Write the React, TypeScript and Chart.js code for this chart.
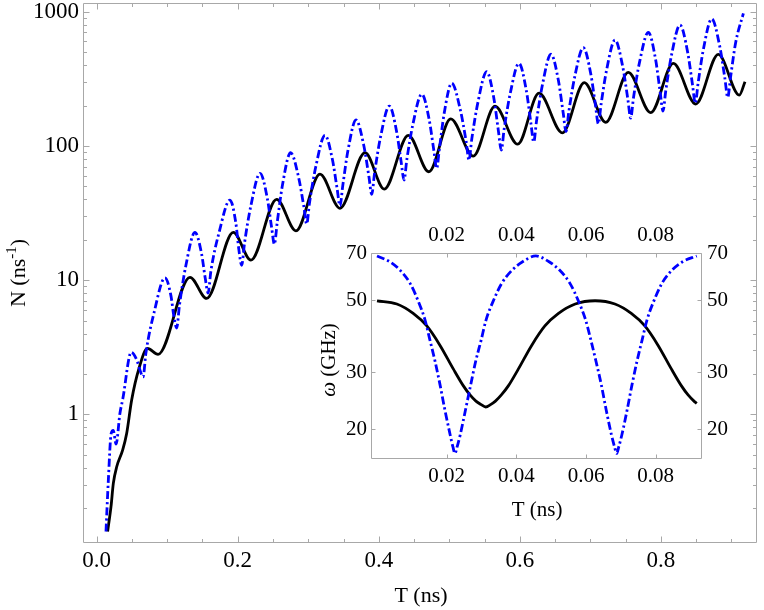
import React, { useEffect, useRef } from "react";
import { Chart, registerables } from "chart.js";

Chart.register(...registerables);

const FONT = "'Liberation Serif', 'Times New Roman', serif";
const FRAME_COLOR = "#a8a8a8";

// ---------- main plot data (T in ns, N in ns^-1) ----------
const blueT = [
  0.0132, 0.0165, 0.0205, 0.0235, 0.0275, 0.033, 0.037, 0.049,
  0.0574, 0.0618, 0.0658, 0.0698, 0.0814, 0.0969,
  0.1052, 0.1094, 0.1134, 0.1174, 0.1264, 0.1394,
  0.1487, 0.154, 0.158, 0.162, 0.1735, 0.189,
  0.1973, 0.2016, 0.2056, 0.2096, 0.2187, 0.2317,
  0.2419, 0.248, 0.252, 0.256, 0.2635, 0.275,
  0.2864, 0.2938, 0.2978, 0.3018, 0.3108, 0.3237,
  0.3344, 0.341, 0.345, 0.349, 0.3564, 0.3677,
  0.3789, 0.386, 0.39, 0.394, 0.4025, 0.415,
  0.4254, 0.4318, 0.4358, 0.4398, 0.4484, 0.461,
  0.4716, 0.4781, 0.4821, 0.4861, 0.4928, 0.5034,
  0.5157, 0.5239, 0.5279, 0.5319, 0.5405, 0.553,
  0.5634, 0.5697, 0.5737, 0.5777, 0.5863, 0.5988,
  0.6093, 0.6157, 0.6197, 0.6237, 0.632, 0.6442,
  0.6549, 0.6615, 0.6655, 0.6695, 0.6778, 0.69,
  0.7007, 0.7073, 0.7113, 0.7153, 0.7232, 0.735,
  0.7461, 0.7532, 0.7572, 0.7612, 0.7697, 0.7822,
  0.7926, 0.799, 0.803, 0.807, 0.8151, 0.8271,
  0.838, 0.8448, 0.8488, 0.8528, 0.8605, 0.8721,
  0.8835, 0.8908, 0.8948, 0.8988, 0.906, 0.917,
];
const blueN = [
  0.134, 0.32, 0.72, 0.76, 0.6, 1.02, 1.3, 2.9,
  2.5, 2.1, 1.9, 2.86, 5.74, 10.4,
  7.7, 5.41, 4.4, 6.52, 12.79, 22.7,
  15.76, 10.27, 8.0, 11.74, 22.59, 39.5,
  26.7, 16.88, 12.9, 18.84, 35.97, 62.5,
  40.82, 24.78, 18.5, 26.97, 51.36, 89,
  58.0, 35.14, 26.2, 37.76, 70.46, 120,
  78.5, 47.76, 35.7, 50.86, 93.1, 156,
  99.8, 59.2, 43.6, 62.7, 116.6, 198,
  127.0, 75.5, 55.7, 79.3, 145.1, 243,
  155.6, 92.3, 68, 96.6, 175.8, 293,
  184.8, 107.7, 78.5, 112.9, 210.2, 357,
  223.0, 128.4, 93, 132.9, 244.7, 412,
  257.0, 147.9, 107, 153.6, 284.6, 482,
  303.0, 176.0, 128, 180.8, 326.3, 540,
  341.7, 199.8, 146, 206.2, 371.8, 615,
  384.7, 222.0, 161, 229.2, 419.3, 702,
  437.7, 251.6, 182, 259.3, 475.0, 796,
  497.8, 287.1, 208, 294.3, 532.3, 883,
  551.4, 317.7, 230, 325.1, 587, 973,
];
const blackT = [
  0.0155, 0.0203, 0.0236, 0.0284, 0.0369, 0.0425, 0.0496, 0.06, 0.072, 0.087,
  0.1323, 0.156, 0.1937, 0.2188, 0.2552, 0.2826, 0.3166, 0.345, 0.3805, 0.4078,
  0.4419, 0.471, 0.502, 0.534, 0.5648, 0.597, 0.6272, 0.6603, 0.6914, 0.7218,
  0.7538, 0.7856, 0.8177, 0.8494, 0.8815, 0.9112, 0.9193,
];
const blackN = [
  0.134, 0.205, 0.306, 0.407, 0.543, 0.72, 1.28, 2.2, 3.1, 2.8,
  10.5, 7.3, 22.7, 14.1, 40, 23.3, 61.7, 34.3, 89, 47.7,
  120, 64.2, 159, 84, 198, 103, 247, 125, 296, 150,
  353, 177, 412, 205, 481, 239, 301,
];

// ---------- inset data (T in ns, omega in GHz) ----------
const insetBlueT = [
  0, 0.0037, 0.0066, 0.0095, 0.0119, 0.0138, 0.0152, 0.0167, 0.0181, 0.0195, 0.021, 0.0218, 0.0224,
  0.023, 0.0239, 0.0254, 0.0269, 0.0283, 0.0299, 0.0313, 0.0333, 0.0358, 0.0388, 0.0418, 0.0456,
  0.0494, 0.0524, 0.0554, 0.0579, 0.0599, 0.0614, 0.0629, 0.0644, 0.0658, 0.0673, 0.0682, 0.0688,
  0.0694, 0.0703, 0.0718, 0.0732, 0.0746, 0.0761, 0.0775, 0.0794, 0.0818, 0.0847, 0.0877, 0.0918,
];
const insetBlueW = [
  68.7, 65.9, 62.1, 56.5, 49.6, 43.5, 37.7, 32.3, 27.4, 22.9, 19.2, 17.6, 16.8,
  17.6, 19.2, 22.9, 27.4, 32.3, 37.7, 43.5, 49.6, 56.5, 62.1, 65.9, 68.7,
  65.9, 62.1, 56.5, 49.6, 43.5, 37.7, 32.3, 27.4, 22.9, 19.2, 17.6, 16.8,
  17.6, 19.2, 22.9, 27.4, 32.3, 37.7, 43.5, 49.6, 56.5, 62.1, 65.9, 68.7,
];
const insetBlackT = [
  0, 0.0057, 0.0104, 0.0143, 0.0181, 0.0219, 0.0248, 0.0267, 0.0284, 0.0299,
  0.0312, 0.0326, 0.034, 0.0357, 0.0377, 0.0406, 0.0444, 0.0482, 0.0521, 0.0569,
  0.0626, 0.0683, 0.073, 0.0769, 0.0807, 0.0845, 0.0874, 0.0893, 0.091, 0.0918,
];
const insetBlackW = [
  49.9, 48.75, 45.6, 41.7, 36.3, 30.7, 27.2, 25.5, 24.4, 23.8,
  23.4, 23.8, 24.4, 25.5, 27.2, 30.7, 36.3, 41.7, 45.6, 48.75,
  49.9, 48.75, 45.6, 41.7, 36.3, 30.7, 27.2, 25.5, 24.4, 24.0,
];

// ---------- ticks ----------
const mainXTicks = [0, 0.2, 0.4, 0.6, 0.8];
const mainXMinor = [0.05, 0.1, 0.15, 0.25, 0.3, 0.35, 0.45, 0.5, 0.55, 0.65, 0.7, 0.75, 0.85, 0.9];
const mainYTicks = [1, 10, 100, 1000];
const mainYMinor = [
  0.2, 0.3, 0.4, 0.5, 0.6, 0.7, 0.8, 0.9,
  2, 3, 4, 5, 6, 7, 8, 9,
  20, 30, 40, 50, 60, 70, 80, 90,
  200, 300, 400, 500, 600, 700, 800, 900,
];
const insetXTicks = [0.02, 0.04, 0.06, 0.08];
const insetYTicks = [20, 30, 50, 70];

const mainXTitle = "T (ns)";
const mainYTitle = ["N (ns", "-1", ")"];
const insetXTitle = "T (ns)";
const insetYTitle = ["ω", " (GHz)"];

function pts(xs: number[], ys: number[]) {
  return xs.map((x, i) => ({ x, y: ys[i] }));
}

const framePlugin = {
  id: "frameTicks",
  beforeDatasetsDraw(chart: any, _args: any, opts: any) {
    const { ctx, chartArea: a } = chart;
    const xs = chart.scales.x;
    const ys = chart.scales.y;
    const L = Math.round(a.left) + 0.5;
    const R = Math.round(a.right) - 0.5;
    const T = Math.round(a.top) + 0.5;
    const B = Math.round(a.bottom) - 0.5;
    ctx.save();
    ctx.strokeStyle = opts.color;
    ctx.lineWidth = 1;
    ctx.beginPath();
    ctx.rect(L, T, R - L, B - T);
    const xt = (vals: number[], len: number) => {
      vals.forEach((v) => {
        const p = Math.round(xs.getPixelForValue(v)) + 0.5;
        if (p < L || p > R) return;
        ctx.moveTo(p, B);
        ctx.lineTo(p, B - len);
        ctx.moveTo(p, T);
        ctx.lineTo(p, T + len);
      });
    };
    const yt = (vals: number[], len: number) => {
      vals.forEach((v) => {
        const p = Math.round(ys.getPixelForValue(v)) + 0.5;
        if (p < T || p > B) return;
        ctx.moveTo(L, p);
        ctx.lineTo(L + len, p);
        ctx.moveTo(R, p);
        ctx.lineTo(R - len, p);
      });
    };
    xt(opts.xMajor, opts.major);
    xt(opts.xMinor, opts.minor);
    yt(opts.yMajor, opts.major);
    yt(opts.yMinor, opts.minor);
    ctx.stroke();
    ctx.restore();
  },
};

const mainTitlePlugin = {
  id: "mainTitles",
  afterDraw(chart: any) {
    const ctx = chart.ctx;
    ctx.save();
    ctx.fillStyle = "#000";
    ctx.font = `22px ${FONT}`;
    ctx.textAlign = "center";
    ctx.textBaseline = "middle";
    ctx.fillText(mainXTitle, 421, 596);
    ctx.translate(17, 273);
    ctx.rotate(-Math.PI / 2);
    ctx.textAlign = "left";
    ctx.textBaseline = "alphabetic";
    ctx.font = `22px ${FONT}`;
    const wa = ctx.measureText(mainYTitle[0]).width;
    const wc = ctx.measureText(mainYTitle[2]).width;
    ctx.font = `15px ${FONT}`;
    const wb = ctx.measureText(mainYTitle[1]).width;
    const x0 = -(wa + wb + wc) / 2;
    ctx.font = `22px ${FONT}`;
    ctx.fillText(mainYTitle[0], x0, 7.5);
    ctx.fillText(mainYTitle[2], x0 + wa + wb, 7.5);
    ctx.font = `15px ${FONT}`;
    ctx.fillText(mainYTitle[1], x0 + wa, -1.5);
    ctx.restore();
  },
};

const insetTitlePlugin = {
  id: "insetTitles",
  afterDraw(chart: any) {
    const ctx = chart.ctx;
    ctx.save();
    ctx.fillStyle = "#000";
    ctx.font = `21px ${FONT}`;
    ctx.textAlign = "center";
    ctx.textBaseline = "middle";
    ctx.fillText(insetXTitle, 237, 295);
    ctx.translate(28, 145);
    ctx.rotate(-Math.PI / 2);
    ctx.textAlign = "left";
    ctx.textBaseline = "alphabetic";
    ctx.font = `italic 21px ${FONT}`;
    const wa = ctx.measureText(insetYTitle[0]).width;
    ctx.font = `21px ${FONT}`;
    const wb = ctx.measureText(insetYTitle[1]).width;
    const x0 = -(wa + wb) / 2;
    ctx.font = `italic 21px ${FONT}`;
    ctx.fillText(insetYTitle[0], x0, 7);
    ctx.font = `21px ${FONT}`;
    ctx.fillText(insetYTitle[1], x0 + wa, 7);
    ctx.restore();
  },
};

const blueStyle = {
  borderColor: "#0000ff",
  borderWidth: 2.8,
  borderDash: [8, 3, 2.2, 3],
  borderCapStyle: "butt",
  pointRadius: 0,
  fill: false,
  cubicInterpolationMode: "monotone",
};
const blackStyle = {
  borderColor: "#000000",
  borderWidth: 2.8,
  pointRadius: 0,
  fill: false,
  cubicInterpolationMode: "monotone",
};

const noGrid = { display: false, drawTicks: false, tickLength: 0 };

export default function App() {
  const mainRef = useRef<HTMLCanvasElement>(null);
  const insetRef = useRef<HTMLCanvasElement>(null);

  useEffect(() => {
    const tickFontMain = { family: FONT, size: 23 };
    const tickFontInset = { family: FONT, size: 21 };

    const main = new Chart(mainRef.current as HTMLCanvasElement, {
      type: "line",
      data: {
        datasets: [
          { ...blueStyle, data: pts(blueT, blueN) } as any,
          { ...blackStyle, data: pts(blackT, blackN) } as any,
        ],
      },
      options: {
        responsive: false,
        animation: false,
        devicePixelRatio: 1,
        events: [],
        layout: { autoPadding: false, padding: { left: 0, top: 3, right: 7, bottom: 0 } },
        plugins: {
          legend: { display: false },
          tooltip: { enabled: false },
          frameTicks: {
            color: FRAME_COLOR,
            xMajor: mainXTicks,
            xMinor: mainXMinor,
            yMajor: mainYTicks,
            yMinor: mainYMinor,
            major: 6,
            minor: 3.5,
          },
        } as any,
        scales: {
          x: {
            type: "linear",
            position: "bottom",
            min: -0.0194,
            max: 0.9363,
            grid: noGrid,
            border: { display: false },
            ticks: {
              font: tickFontMain,
              color: "#000",
              padding: 4,
              autoSkip: false,
              maxRotation: 0,
              callback: (v: any) => Number(v).toFixed(1),
            },
            afterBuildTicks: (s: any) => {
              s.ticks = mainXTicks.map((v) => ({ value: v }));
            },
            afterFit: (s: any) => {
              s.height = 67;
              s.paddingLeft = 0;
              s.paddingRight = 0;
            },
          },
          y: {
            type: "logarithmic",
            position: "left",
            min: 0.11,
            max: 1161,
            grid: noGrid,
            border: { display: false },
            ticks: {
              font: tickFontMain,
              color: "#000",
              padding: 4,
              autoSkip: false,
              callback: (v: any) => String(v),
            },
            afterBuildTicks: (s: any) => {
              s.ticks = mainYTicks.map((v) => ({ value: v }));
            },
            afterFit: (s: any) => {
              s.width = 83;
              s.paddingTop = 0;
              s.paddingBottom = 0;
            },
          },
        } as any,
      },
      plugins: [framePlugin as any, mainTitlePlugin as any],
    });

    const xInset = (position: string, h: number) => ({
      type: "linear",
      position,
      min: -0.00172,
      max: 0.0933,
      grid: noGrid,
      border: { display: false },
      ticks: {
        font: tickFontInset,
        color: "#000",
        padding: 5,
        autoSkip: false,
        maxRotation: 0,
        callback: (v: any) => Number(v).toFixed(2),
      },
      afterBuildTicks: (s: any) => {
        s.ticks = insetXTicks.map((v) => ({ value: v }));
      },
      afterFit: (s: any) => {
        s.height = h;
        s.paddingLeft = 0;
        s.paddingRight = 0;
      },
    });
    const yInset = (position: string, w: number, pad: number) => ({
      type: "logarithmic",
      position,
      min: 16.15,
      max: 70.15,
      grid: noGrid,
      border: { display: false },
      ticks: {
        font: tickFontInset,
        color: "#000",
        padding: pad,
        autoSkip: false,
        callback: (v: any) => String(v),
      },
      afterBuildTicks: (s: any) => {
        s.ticks = insetYTicks.map((v) => ({ value: v }));
      },
      afterFit: (s: any) => {
        s.width = w;
        s.paddingTop = 0;
        s.paddingBottom = 0;
      },
    });

    const inset = new Chart(insetRef.current as HTMLCanvasElement, {
      type: "line",
      data: {
        datasets: [
          { ...blueStyle, xAxisID: "x", yAxisID: "y", data: pts(insetBlueT, insetBlueW) } as any,
          { ...blackStyle, xAxisID: "x", yAxisID: "y", data: pts(insetBlackT, insetBlackW) } as any,
        ],
      },
      options: {
        responsive: false,
        animation: false,
        devicePixelRatio: 1,
        events: [],
        layout: { autoPadding: false, padding: 0 },
        plugins: {
          legend: { display: false },
          tooltip: { enabled: false },
          frameTicks: {
            color: FRAME_COLOR,
            xMajor: insetXTicks,
            xMinor: [],
            yMajor: insetYTicks,
            yMinor: [],
            major: 4,
            minor: 0,
          },
        } as any,
        scales: {
          x: xInset("bottom", 66),
          x2: xInset("top", 38),
          y: yInset("left", 71, 4),
          y2: yInset("right", 58, 5),
        } as any,
      },
      plugins: [framePlugin as any, insetTitlePlugin as any],
    });

    return () => {
      main.destroy();
      inset.destroy();
    };
  }, []);

  return (
    <div style={{ position: "absolute", left: 0, top: 0, width: 764, height: 610, background: "#fff" }}>
      <canvas ref={mainRef} width={764} height={610} style={{ position: "absolute", left: 0, top: 0 }} />
      <canvas ref={insetRef} width={460} height={310} style={{ position: "absolute", left: 300, top: 215 }} />
    </div>
  );
}
